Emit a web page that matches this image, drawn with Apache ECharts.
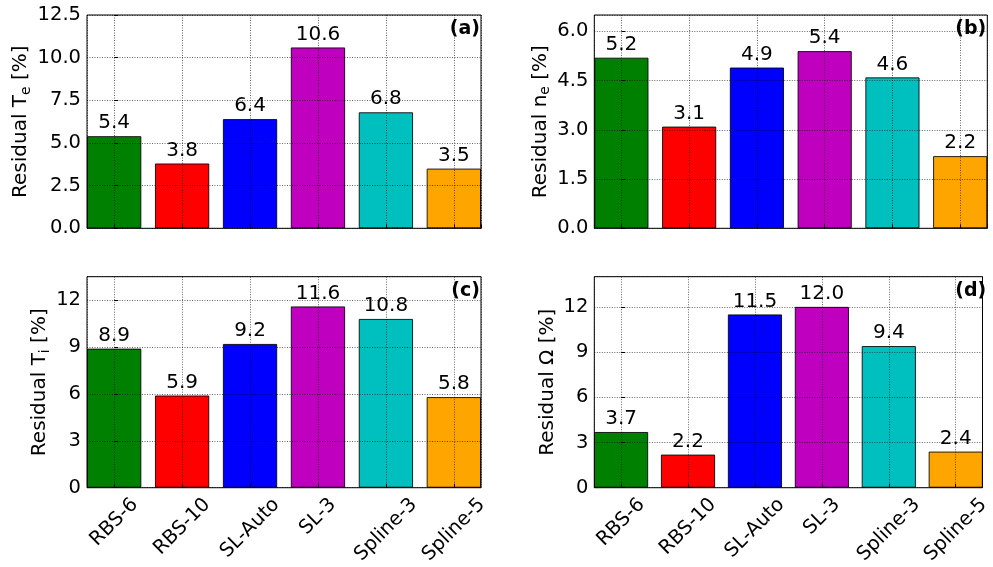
<!DOCTYPE html>
<html>
<head>
<meta charset="utf-8">
<script src="https://cdn.jsdelivr.net/npm/echarts@6/dist/echarts.min.js"></script>
<style>
  html, body { margin: 0; padding: 0; background: #ffffff; }
  #chart { width: 993px; height: 567px; }
</style>
</head>
<body>
<div id="chart"></div>
<script>
// Reconstruction methods compared in every panel
const methods = ['RBS-6', 'RBS-10', 'SL-Auto', 'SL-3', 'Spline-3', 'Spline-5'];
const barColors = ['#008000', '#ff0000', '#0000ff', '#bf00bf', '#00bfbf', '#ffa500'];

// Residuals [%] per method
const residualTe = [5.4, 3.8, 6.4, 10.6, 6.8, 3.5];
const residualNe = [5.2, 3.1, 4.9, 5.4, 4.6, 2.2];
const residualTi = [8.9, 5.9, 9.2, 11.6, 10.8, 5.8];
const residualOmega = [3.7, 2.2, 11.5, 12.0, 9.4, 2.4];

// y-axis limits and tick steps: [max, step]
const yAxisTe = [12.5, 2.5];
const yAxisNe = [6.5, 1.5];
const yAxisTi = [13.5, 3];
const yAxisOmega = [14, 3];

// x range around the bar centres (bars sit at 0..5)
const xRange = [-0.4, 5.4];

const FONT = '"DejaVu Sans", sans-serif';
const gridLine = { color: 'rgba(0,0,0,0.6)', width: 1, type: [1, 1.5] };

const panels = [
  { tag: '(a)', values: residualTe, axis: yAxisTe, dec: 1, sub: 'e', base: 'Residual T',
    left: 87, top: 15, width: 394, height: 213.3, nameGap: 54, bottom: false },
  { tag: '(b)', values: residualNe, axis: yAxisNe, dec: 1, sub: 'e', base: 'Residual n',
    left: 594.3, top: 15, width: 393, height: 213.3, nameGap: 42, bottom: false },
  { tag: '(c)', values: residualTi, axis: yAxisTi, dec: 0, sub: 'i', base: 'Residual T',
    left: 87, top: 276.7, width: 394, height: 212.6, nameGap: 35, bottom: true },
  { tag: '(d)', values: residualOmega, axis: yAxisOmega, dec: 0, sub: '', base: 'Residual Ω',
    left: 594.3, top: 276.7, width: 393, height: 212.6, nameGap: 37, bottom: true }
];

// Rotated category labels: centre each rotated label box under its bar
const measureCtx = document.createElement('canvas').getContext('2d');
const xLabelSize = 19.5;
measureCtx.font = xLabelSize + 'px "DejaVu Sans"';
const xLabelRich = {};
methods.forEach((m, i) => {
  const L = measureCtx.measureText(m).width;
  const drop = 9 + (L + 14) * 0.3535;
  const p = 1.414 * drop;
  xLabelRich['c' + i] = {
    fontSize: xLabelSize, fontFamily: FONT, color: '#000',
    padding: [p, p, 0, 0]
  };
});

const grids = [], xAxes = [], yAxes = [], series = [], graphics = [];

panels.forEach((p, k) => {
  grids.push({
    left: p.left, top: p.top, width: p.width, height: p.height,
    show: true, borderColor: '#000', borderWidth: 1, backgroundColor: 'transparent',
    containLabel: false, z: 4
  });

  xAxes.push({
    gridIndex: k, type: 'value', min: xRange[0], max: xRange[1],
    minInterval: 1, maxInterval: 1,
    axisLine: { show: false },
    axisTick: { show: true, inside: true, length: 4, lineStyle: { color: '#000' } },
    splitLine: { show: true, lineStyle: gridLine },
    axisLabel: p.bottom ? {
      show: true, rotate: 45, align: 'center', verticalAlign: 'middle', margin: 0,
      showMinLabel: false, showMaxLabel: false, hideOverlap: false,
      formatter: (v) => {
        const i = Math.round(v);
        if (Math.abs(v - i) > 1e-6 || i < 0 || i >= methods.length) return '';
        return '{c' + i + '|' + methods[i] + '}';
      },
      rich: xLabelRich
    } : { show: false },
    z: 3
  });

  const name = p.sub
    ? '{m|' + p.base + '}{s|' + p.sub + '}{m| [%]}'
    : '{m|' + p.base + ' [%]}';

  yAxes.push({
    gridIndex: k, type: 'value', min: 0, max: p.axis[0], interval: p.axis[1],
    axisLine: { show: false },
    axisTick: { show: true, inside: true, length: 4, lineStyle: { color: '#000' } },
    splitLine: { show: true, lineStyle: gridLine },
    axisLabel: {
      fontSize: 19.5, fontFamily: FONT, color: '#000', margin: 6,
      showMaxLabel: Math.abs(p.axis[0] / p.axis[1] - Math.round(p.axis[0] / p.axis[1])) < 1e-9,
      formatter: (v) => v.toFixed(p.dec)
    },
    name: name, nameLocation: 'middle', nameGap: p.nameGap, nameRotate: 90,
    nameTextStyle: {
      color: '#000', fontFamily: FONT, fontSize: 20,
      rich: {
        m: { fontSize: 20, fontFamily: FONT, color: '#000' },
        s: { fontSize: 14, fontFamily: FONT, color: '#000', padding: [10, 0, 0, 0] }
      }
    },
    z: 3
  });

  series.push({
    type: 'bar', xAxisIndex: k, yAxisIndex: k,
    barWidth: 0.8 * p.width / (xRange[1] - xRange[0]),
    data: p.values.map((v, i) => ({ value: [i, v], itemStyle: { color: barColors[i] } })),
    itemStyle: { borderColor: 'rgba(0,0,0,0.85)', borderWidth: 1 },
    label: {
      show: true, position: 'top', distance: 3,
      fontSize: 20, fontFamily: FONT, color: '#000',
      formatter: (d) => d.value[1].toFixed(1)
    },
    silent: true, animation: false
  });

  graphics.push({
    type: 'text', x: p.left + p.width - 1, y: p.top + 5, z: 10,
    style: {
      text: p.tag, align: 'right', verticalAlign: 'top',
      fontSize: 19, fontWeight: 'bold', fontFamily: FONT, fill: '#000'
    }
  });
});

const chart = echarts.init(document.getElementById('chart'), null, { renderer: 'canvas' });
chart.setOption({
  backgroundColor: '#ffffff',
  animation: false,
  grid: grids,
  xAxis: xAxes,
  yAxis: yAxes,
  series: series,
  graphic: graphics
});
</script>
</body>
</html>
